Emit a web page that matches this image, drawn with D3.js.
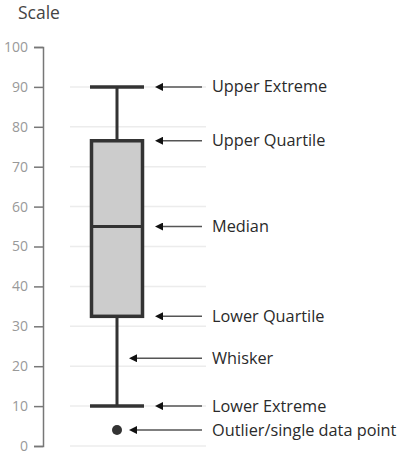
<!DOCTYPE html>
<html>
<head>
<meta charset="utf-8">
<script src="https://cdn.jsdelivr.net/npm/d3@7"></script>
<style>
  body { margin: 0; background: white; }
  text { font-family: "Open Sans", sans-serif; }
</style>
</head>
<body>
<div id="container"></div>
<script>
let w = 408;
let h = 456;

// data
let ticks = [0, 10, 20, 30, 40, 50, 60, 70, 80, 90, 100];
let stats = { min: 10, q1: 32.5, median: 55, q3: 76.5, max: 90 };
let outliers = [4];
let labels = ["Upper Extreme", "Upper Quartile", "Median", "Lower Quartile", "Whisker", "Lower Extreme", "Outlier/single data point"];
let labelValues = [90, 76.5, 55, 32.5, 22, 10, 4];
let labelTargets = ["box", "box", "box", "box", "line", "box", "line"];

let viz = d3.select("#container")
  .append("svg")
    .attr("width", w)
    .attr("height", h)
    .style("background-color", "white")
;

let yScale = d3.scaleLinear().domain([0, 100]).range([446, 47]);
let xScale = d3.scaleBand().domain(["box"]).range([90, 144]);
let boxLeft = xScale("box");
let boxRight = boxLeft + xScale.bandwidth();
let center = boxLeft + xScale.bandwidth() / 2;

viz.append("text")
    .attr("x", 18)
    .attr("y", 19)
    .attr("font-size", 17.5)
    .attr("fill", "#444")
    .text("Scale");

// gridlines
viz.append("g")
  .selectAll("line").data(ticks.filter(d => d < 100)).enter()
  .append("line")
    .attr("x1", 70)
    .attr("x2", 206)
    .attr("y1", d => yScale(d))
    .attr("y2", d => yScale(d))
    .attr("stroke", "#ececec")
    .attr("stroke-width", 1.5);

// axis
let axis = d3.axisLeft(yScale).tickValues(ticks).tickSize(9).tickPadding(6);
let axisG = viz.append("g")
    .attr("transform", "translate(43,0)")
    .call(axis);
axisG.select(".domain").attr("stroke", "#777").attr("stroke-width", 1.5);
axisG.selectAll(".tick line").attr("stroke", "#777").attr("stroke-width", 1.5);
axisG.selectAll(".tick text")
    .attr("fill", "#999")
    .attr("font-size", 14)
    .style("font-family", "'Open Sans', sans-serif");

// whisker
let box = viz.append("g");
box.append("line")
    .attr("x1", center).attr("x2", center)
    .attr("y1", yScale(stats.max)).attr("y2", yScale(stats.min))
    .attr("stroke", "#333").attr("stroke-width", 3);
box.selectAll(".cap").data([stats.min, stats.max]).enter()
  .append("line")
    .classed("cap", true)
    .attr("x1", boxLeft).attr("x2", boxRight)
    .attr("y1", d => yScale(d)).attr("y2", d => yScale(d))
    .attr("stroke", "#333").attr("stroke-width", 3.5);
box.append("rect")
    .attr("x", boxLeft + 1.5)
    .attr("width", xScale.bandwidth() - 3)
    .attr("y", yScale(stats.q3))
    .attr("height", yScale(stats.q1) - yScale(stats.q3))
    .attr("fill", "#cccccc")
    .attr("stroke", "#333")
    .attr("stroke-width", 3.5);
box.append("line")
    .attr("x1", boxLeft + 1.5).attr("x2", boxRight - 1.5)
    .attr("y1", yScale(stats.median)).attr("y2", yScale(stats.median))
    .attr("stroke", "#333").attr("stroke-width", 3);
box.selectAll("circle").data(outliers).enter()
  .append("circle")
    .attr("cx", center)
    .attr("cy", d => yScale(d))
    .attr("r", 5)
    .attr("fill", "#333");

// annotations
viz.append("defs").append("marker")
    .attr("id", "arrow")
    .attr("viewBox", "0 0 10 10")
    .attr("refX", 0).attr("refY", 5)
    .attr("markerWidth", 10).attr("markerHeight", 8)
    .attr("markerUnits", "userSpaceOnUse")
    .attr("orient", "auto-start-reverse")
  .append("path")
    .attr("d", "M 0 0 L 10 5 L 0 10 z")
    .attr("fill", "#111");

function tipX(i) {
  return labelTargets[i] == "box" ? boxRight + 9 : center + 10;
}

let notes = viz.append("g").selectAll("g").data(labels).enter().append("g");
notes.append("line")
    .attr("x1", (d, i) => tipX(i) + 10)
    .attr("x2", 202)
    .attr("y1", (d, i) => yScale(labelValues[i]))
    .attr("y2", (d, i) => yScale(labelValues[i]))
    .attr("stroke", "#555")
    .attr("stroke-width", 1.5)
    .attr("marker-start", "url(#arrow)");
notes.append("text")
    .attr("x", 212)
    .attr("y", (d, i) => yScale(labelValues[i]) + 5.5)
    .attr("font-size", 16.3)
    .attr("fill", "#2a2a2a")
    .text(d => d);
</script>
</body>
</html>
